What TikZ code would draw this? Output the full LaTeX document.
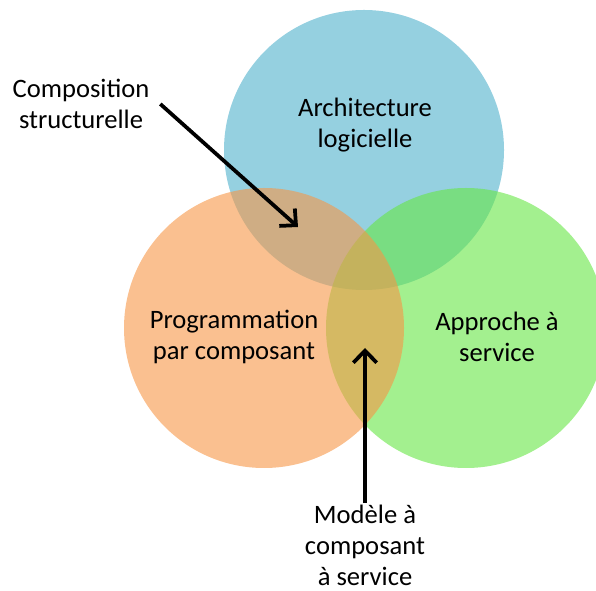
\documentclass[tikz,border=0pt]{standalone}
\usepackage{fontspec}
\setmainfont{Carlito}
\usetikzlibrary{arrows.meta}
\definecolor{archblue}{RGB}{78,176,204}
\definecolor{progorange}{RGB}{247,150,70}
\definecolor{servgreen}{RGB}{102,230,68}

\begin{document}
\begin{tikzpicture}[
    disc/.style={circle, minimum size=8.4cm, inner sep=0pt, fill opacity=0.6},
    label/.style={align=center, inner sep=2pt, font=\fontsize{22.7}{26.5}\selectfont},
    pointer/.style={line width=3.2pt, -{Straight Barb[length=3.6mm,width=7mm]}}
  ]
      \useasboundingbox (0,0) rectangle (17.88,17.7);
      \clip (0,0) rectangle (17.88,17.7);

      % The three discs: blue first, then green, orange on top
      \node[disc, fill=archblue] (Arch) at (10.92,13.2) {};
      \node[disc, fill=servgreen] (Serv) at (13.98,7.86) {};
      \node[disc, fill=progorange] (Prog) at (7.92,7.86) {};

      % Texts inside the discs
      \node[label] (ArchText) at (10.95,13.95) {Architecture\\logicielle};
      \node[label] (ProgText) at (7.02,7.59) {Programmation\\par composant};
      \node[label] (ServText) at (14.91,7.59) {Approche à\\service};

      % Texts outside, pointing into the overlaps
      \node[label] (Comp) at (2.43,14.58) {Composition\\structurelle};
      \node[label] (Model) at (10.95,1.33) {Modèle à\\composant\\à service};
      \coordinate (CompTip) at (8.94,10.89);
      \coordinate (ModelTip) at (10.95,7.26);

      % Arrows
      \draw[pointer] ([xshift=0.25cm]Comp.east) -- (CompTip);
      \draw[pointer] (Model.north) -- (ModelTip);
    \end{tikzpicture}
\end{document}
